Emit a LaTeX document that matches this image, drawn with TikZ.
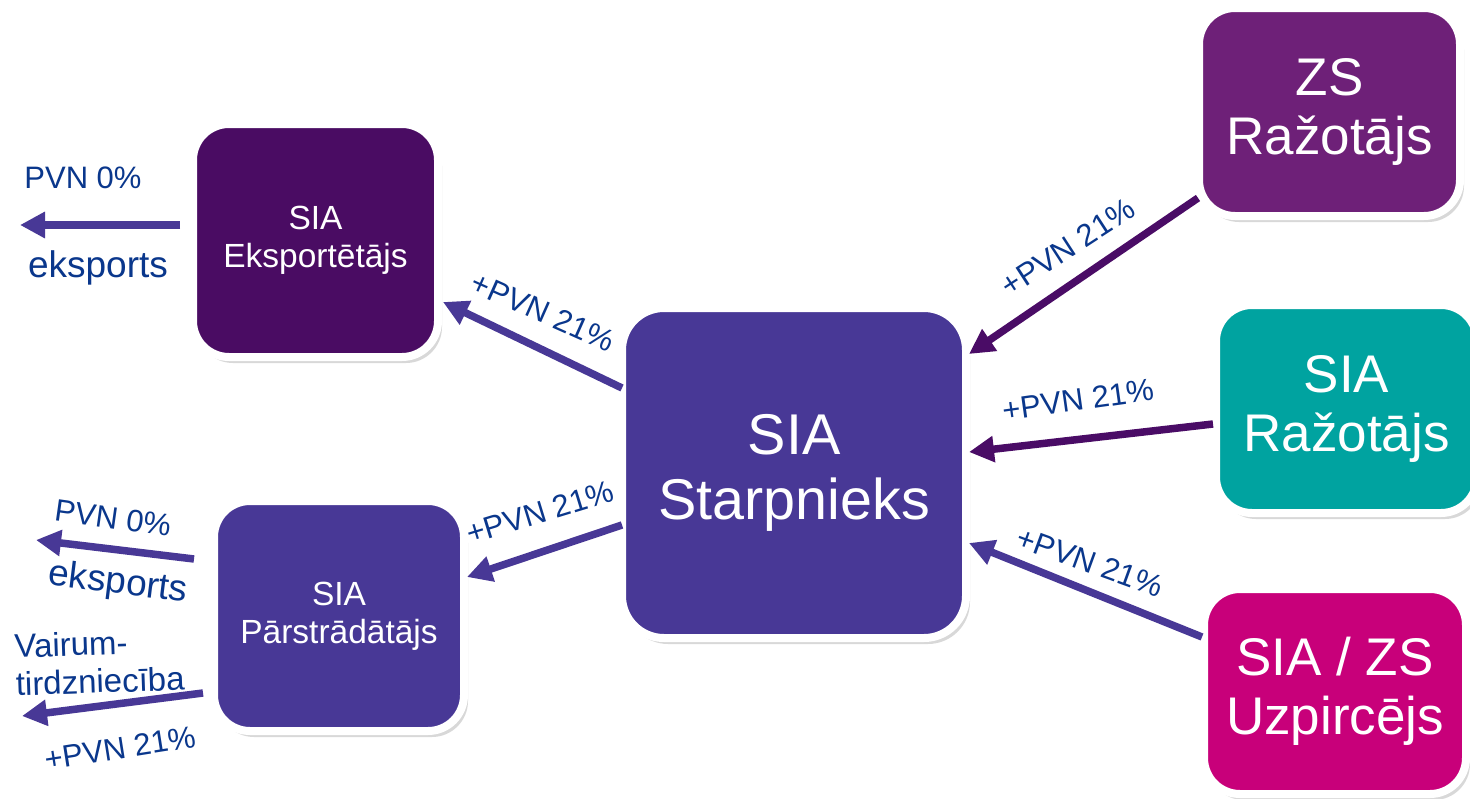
\documentclass[tikz,border=0pt]{standalone}
\usepackage{fontspec}
\setmainfont{Liberation Sans}
\usetikzlibrary{shadows,arrows.meta,calc}
\definecolor{cExp}{RGB}{74,12,99}
\definecolor{cMid}{RGB}{72,56,150}
\definecolor{cZS}{RGB}{110,32,120}
\definecolor{cTeal}{RGB}{0,163,160}
\definecolor{cMag}{RGB}{200,0,122}
\definecolor{cLab}{RGB}{10,55,140}
\definecolor{cArrD}{RGB}{74,12,102}
\tikzset{
 box/.style={draw=white, line width=8pt, rounded corners=36pt, text=white, align=center, inner sep=0pt,
   drop shadow={opacity=0.3, shadow xshift=4pt, shadow yshift=-6pt}},
 arr/.style={line width=7.5pt, draw=cMid, -{Triangle[length=25pt,width=25pt]}},
 arrd/.style={arr, draw=cArrD},
 lab/.style={text=cLab, inner sep=0pt, font=\fontsize{31}{36}\selectfont},
 labbig/.style={lab, font=\fontsize{37}{40}\selectfont},
 bigtxt/.style={font=\fontsize{53}{59}\selectfont},
 midtxt/.style={font=\fontsize{33.5}{38}\selectfont},
}
\begin{document}
\begin{tikzpicture}[x=1pt,y=-1pt]
\useasboundingbox[fill=white] (0,0) rectangle (1470,798);
% boxes
\node[box, fill=cExp, midtxt, minimum width=245pt, minimum height=233pt] (exp) at (315.5,240.5) {SIA\\Eksportētājs};
\node[box, fill=cMid, font=\fontsize{57.5}{65}\selectfont, minimum width=344pt, minimum height=330pt, rounded corners=42pt] (star) at (794,473) {SIA\\Starpnieks};
\node[box, fill=cMid, midtxt, minimum width=250pt, minimum height=230pt] (par) at (339,616) {SIA\\Pārstrādātājs};
\node[box, fill=cZS, bigtxt, minimum width=261pt, minimum height=208pt] (zs) at (1329.5,112) {ZS\\Ražotājs};
\node[box, fill=cTeal, bigtxt, minimum width=261pt, minimum height=208pt] (sia) at (1346.5,409) {SIA\\Ražotājs};
\node[box, fill=cMag, bigtxt, minimum width=262pt, minimum height=205pt] (uzp) at (1335,691.5) {SIA / ZS\\Uzpircējs};
% free ends
\coordinate (eo) at (20,225);
\coordinate (po) at (36,540);
\coordinate (wo) at (22,716);
% connectors
\draw[arr] ($(exp.center)+(-135.5,-15.5)$) -- (eo);
\draw[arr] ($(star.center)+(-172,-85)$) -- ($(exp.center)+(127.5,61.5)$);
\draw[arr] ($(star.center)+(-172,52)$) -- ($(par.center)+(128,-39)$);
\draw[arr] ($(par.center)+(-145,-57)$) -- (po);
\draw[arr] ($(par.center)+(-136,77)$) -- (wo);
\draw[arrd] ($(zs.center)+(-131.5,86)$) -- ($(star.center)+(175,-119)$);
\draw[arrd] ($(sia.center)+(-133.5,15)$) -- ($(star.center)+(175,-21)$);
\draw[arr] ($(uzp.center)+(-133,-54.5)$) -- ($(star.center)+(175,70)$);
% labels
\node[lab] (l1) at (83,178) {PVN 0\%};
\node[labbig] (l2) at (98,268) {eksports};
\node[lab, rotate=-24] (l3) at (543,312) {+PVN 21\%};
\node[lab, rotate=17] (l4) at (540,512) {+PVN 21\%};
\node[lab, rotate=33] (l5) at (1068,247) {+PVN 21\%};
\node[lab, rotate=8] (l6) at (1078,400) {+PVN 21\%};
\node[lab, rotate=-20] (l7) at (1090,562) {+PVN 21\%};
\node[lab, rotate=-8] (l8) at (113,518) {PVN 0\%};
\node[labbig, rotate=-7] (l9) at (118,584) {eksports};
\node[lab, font=\fontsize{33}{38}\selectfont, align=left, anchor=west, rotate=2] (l10) at (15,665) {Vairum-\\tirdzniecība};
\node[lab, rotate=9] (l11) at (120,748) {+PVN 21\%};
\end{tikzpicture}
\end{document}
